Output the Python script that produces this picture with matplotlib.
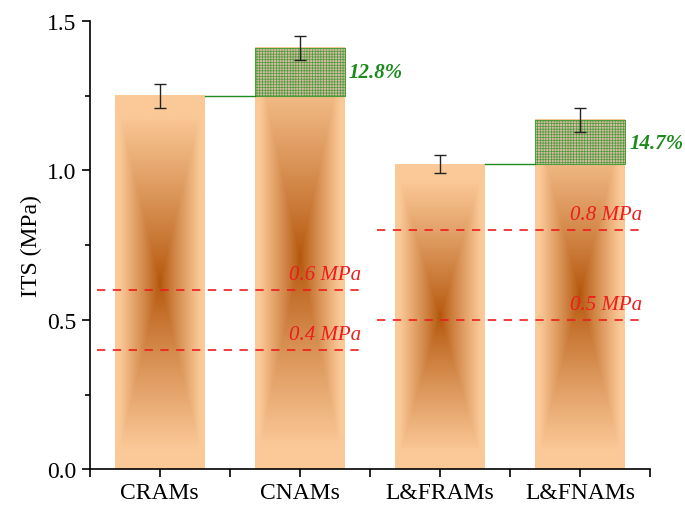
import matplotlib.pyplot as plt
import numpy as np
from matplotlib.colors import to_rgb

plt.rcParams['font.family'] = ['Liberation Serif', 'DejaVu Serif']
plt.rcParams['hatch.linewidth'] = 0.5

# ITS values (MPa)
grupos = ['CRAMs', 'CNAMs', 'L&FRAMs', 'L&FNAMs']
base = [1.25, 1.25, 1.02, 1.02]
total = [1.25, 1.41, 1.02, 1.17]
erro = [0.04, 0.04, 0.03, 0.04]
ganho = ['', '12.8%', '', '14.7%']

# reference strength lines
ref_val = [0.6, 0.4, 0.8, 0.5]
ref_txt = ['0.6 MPa', '0.4 MPa', '0.8 MPa', '0.5 MPa']
ref_x0 = [-0.45, -0.45, 1.55, 1.55]
ref_x1 = [1.45, 1.45, 3.45, 3.45]

largura = 0.64
claro = np.array(to_rgb('#fbc998'))
escuro = np.array(to_rgb('#b4560c'))

fig = plt.figure(figsize=(6.85, 5.1), dpi=100)
ax = fig.add_axes([0.131, 0.078, 0.818, 0.879])

# gradient fill of each bar (dark centre, light edges)
nx, ny = 120, 200
u = np.linspace(-1, 1, nx)
v = np.linspace(-1, 1, ny)
U, V = np.meshgrid(u, v)
t = np.maximum(np.abs(U), np.abs(V))
t = np.clip(t / 0.9, 0, 1) ** 0.9
img = escuro + (claro - escuro) * t[..., None]

x = np.arange(len(grupos))
for i in range(len(grupos)):
    ax.imshow(img, extent=[x[i] - largura / 2, x[i] + largura / 2, 0, total[i]],
              aspect='auto', interpolation='bilinear', origin='lower', zorder=1)
    if total[i] > base[i]:
        ax.bar(x[i], total[i] - base[i], largura, bottom=base[i],
               facecolor='#d6bba2', edgecolor='#4c9c3c', hatch='++++++',
               linewidth=0.8, zorder=2)
        ax.plot([x[i - 1] + largura / 2, x[i] - largura / 2], [base[i], base[i]],
                color='#1f8a1f', lw=1.0, zorder=2)
        ax.text(x[i] + largura / 2 + 0.03, total[i] - 0.08, ganho[i],
                color='#1c8a1c', fontsize=15, fontweight='bold', style='italic',
                ha='left', va='center', zorder=4)

ax.errorbar(x, total, yerr=erro, fmt='none', ecolor='#222222', elinewidth=1.0,
            capsize=4, capthick=1.0, zorder=3)

for i in range(len(ref_val)):
    ax.plot([ref_x0[i], ref_x1[i]], [ref_val[i], ref_val[i]], color='#ee1c1c',
            lw=1.2, linestyle=(0, (5, 4.5)), zorder=3)
    ax.text(ref_x1[i] - 0.01, ref_val[i] + 0.02, ref_txt[i], color='#ee1c1c',
            fontsize=15, style='italic', ha='right', va='bottom', zorder=4)

# axes formatting
ax.set_xlim(-0.5, 3.5)
ax.set_ylim(0, 1.5)
ax.set_xticks(x)
ax.set_xticklabels(grupos, fontsize=17)
ax.set_xticks([-0.5, 0.5, 1.5, 2.5, 3.5], minor=True)
ax.set_yticks([0, 0.5, 1.0, 1.5])
ax.set_yticklabels(['0.0', '0.5', '1.0', '1.5'], fontsize=17)
ax.set_yticks([0.25, 0.75, 1.25], minor=True)
ax.set_ylabel('ITS (MPa)', fontsize=17, labelpad=4)
ax.spines['top'].set_visible(False)
ax.spines['right'].set_visible(False)
ax.spines['left'].set_linewidth(1.2)
ax.spines['bottom'].set_linewidth(1.2)
ax.tick_params(axis='both', which='major', direction='out', length=6, width=1.2)
ax.tick_params(axis='y', which='minor', direction='out', length=3.5, width=1.2)
ax.tick_params(axis='x', which='minor', direction='out', length=6, width=1.2)

plt.savefig('out.png', dpi=100)
